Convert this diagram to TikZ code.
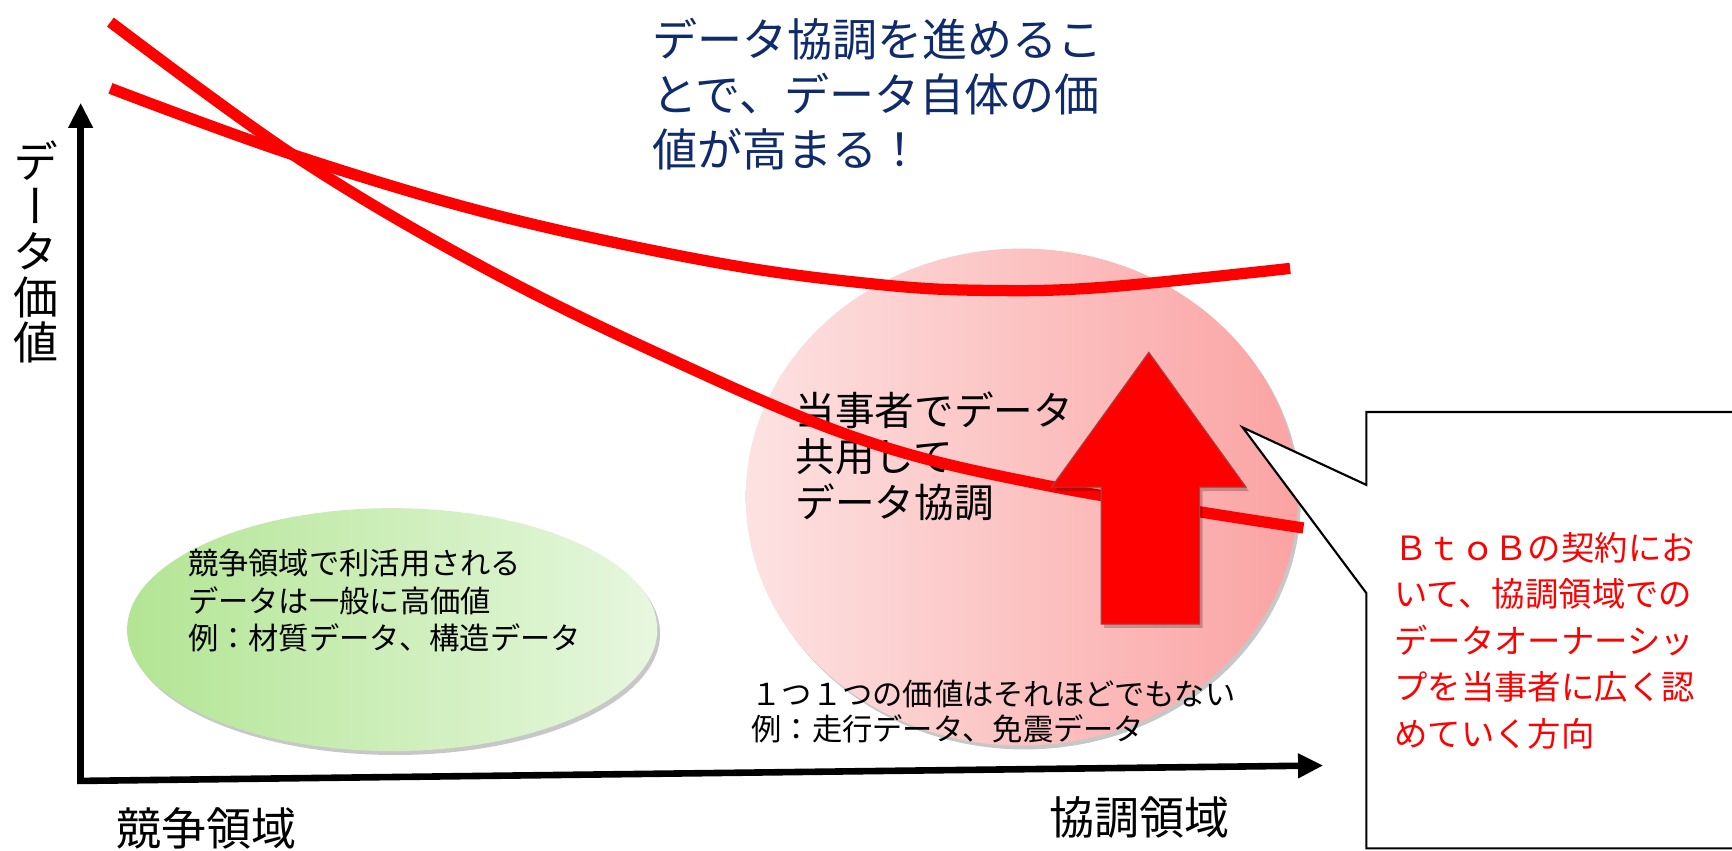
\documentclass[tikz,border=0pt]{standalone}
\usepackage{fontspec}
\setmainfont{Noto Sans CJK JP}
\newfontfamily\vertfont[RawFeature=+vert]{Noto Sans CJK JP}
\usetikzlibrary{arrows.meta,shapes.geometric,shadows}
\definecolor{navy}{HTML}{0F2B6B}
\definecolor{grnL}{HTML}{B3E594}
\definecolor{grnR}{HTML}{E7F7DF}
\definecolor{pnkL}{HTML}{FDE2E2}
\definecolor{pnkR}{HTML}{FBA3A3}
\definecolor{arrEdge}{HTML}{B03A3A}
\tikzset{
  redcurve/.style={draw=red, line width=5.8pt},
  axisline/.style={draw=black, line width=3.4pt, -{Triangle[length=13pt,width=12pt]}},
  softshadow/.style={drop shadow={shadow xshift=1.5pt, shadow yshift=-2pt, opacity=0.22, fill=black}},
  txt/.style={inner sep=0pt, align=left, anchor=west}
}
\begin{document}
\begin{tikzpicture}[x=0.02cm,y=-0.02cm]
\useasboundingbox (0,0) rectangle (1568,770);
\clip (0,0) rectangle (1568,770);

% green ellipse
\node[ellipse, minimum width=9.6cm, minimum height=4.4cm, inner sep=0pt,
      left color=grnL, right color=grnR, softshadow] (green) at (355,570) {};
% pink circle
\node[ellipse, minimum width=10cm, minimum height=9cm, inner sep=0pt,
      left color=pnkL, right color=pnkR, softshadow] (pink) at (925,450) {};

% texts inside shapes
\node[txt, font=\fontsize{15.6}{19.3}\selectfont] (gtext) at (170,544)
  {競争領域で利活用される\\データは一般に高価値\\例：材質データ、構造データ};
\node[txt, font=\fontsize{20.4}{23.8}\selectfont] (ptext) at (720,413)
  {当事者でデータ\\共用して\\データ協調};
\node[txt, font=\fontsize{15.6}{18.1}\selectfont] (psmall) at (680,644)
  {１つ１つの価値はそれほどでもない\\例：走行データ、免震データ};

% axes
\coordinate (O) at (73,707);
\coordinate (ytip) at (73,93);
\coordinate (xtip) at (1198,693);
\draw[axisline] ([yshift=-1.7pt]O) -- (ytip);
\draw[axisline] ([xshift=-1.7pt]O) -- (xtip);

% axis labels
\node[inner sep=0pt, align=center, font=\vertfont\fontsize{23.2}{23.4}\selectfont] (ylab) at (33,228)
  {デ\\ー\\タ\\価\\値};
\node[txt, font=\fontsize{23.2}{28}\selectfont] (xl1) at (105,750) {競争領域};
\node[txt, font=\fontsize{23.2}{28}\selectfont] (xl2) at (950,740) {協調領域};

% blue heading
\node[txt, text=navy, font=\fontsize{23.2}{28.4}\selectfont] (head) at (590,85)
  {データ協調を進めるこ\\とで、データ自体の価\\値が高まる！};

% red curves
\draw[redcurve] plot[smooth, tension=0.6] coordinates
  {(100,20) (265,140) (430,238) (600,322) (780,398) (950,440) (1180,478)};
\draw[redcurve] plot[smooth, tension=0.6] coordinates
  {(100,80) (265,140) (450,195) (650,238) (800,258) (900,263) (1000,260) (1168,243)};

% big red arrow
\coordinate (tip) at (1040,319);
\path[fill=red, draw=arrEdge, line width=0.6pt, softshadow]
  (tip) -- (1128,441) -- (1086,441) -- (1086,565) -- (997,565) -- (997,441) -- (952,441) -- cycle;

% callout
\coordinate (ctip) at (1125,387);
\path[fill=white, draw=black, line width=1.1pt]
  (1237,439) -- (ctip) -- (1237,537) -- (1237,768) -- (1600,768) -- (1600,373) -- (1237,373) -- cycle;
\node[txt, text=red, font=\fontsize{17.2}{24}\selectfont] (ctext) at (1262,580)
  {ＢｔｏＢの契約にお\\いて、協調領域での\\データオーナーシッ\\プを当事者に広く認\\めていく方向};
\end{tikzpicture}
\end{document}
